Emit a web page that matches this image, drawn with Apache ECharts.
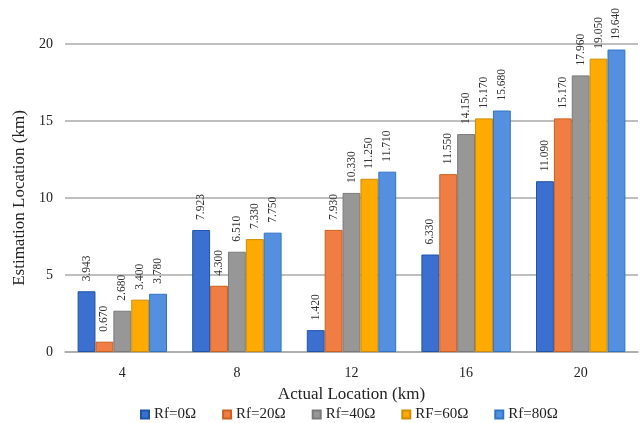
<!DOCTYPE html>
<html>
<head>
<meta charset="utf-8">
<script src="https://cdn.jsdelivr.net/npm/echarts@6/dist/echarts.min.js"></script>
<style>
  html, body { margin: 0; padding: 0; background: #fff; }
  #chart { width: 641px; height: 423px; }
</style>
</head>
<body>
<div id="chart"></div>
<script>
// Actual fault locations (km)
const categories = ['4', '8', '12', '16', '20'];

// Estimated locations (km) for each fault resistance
const rf0  = [3.943, 7.923, 1.420, 6.330, 11.090];
const rf20 = [0.670, 4.300, 7.930, 11.550, 15.170];
const rf40 = [2.680, 6.510, 10.330, 14.150, 17.960];
const rf60 = [3.400, 7.330, 11.250, 15.170, 19.050];
const rf80 = [3.780, 7.750, 11.710, 15.680, 19.640];

const seriesNames = ['Rf=0Ω', 'Rf=20Ω', 'Rf=40Ω', 'RF=60Ω', 'Rf=80Ω'];
const seriesData = [rf0, rf20, rf40, rf60, rf80];
const fills = ['#3B6FD0', '#F07D44', '#979797', '#FFAA00', '#5590E0'];
const edges = ['#1F55A8', '#C8601E', '#7A7A7A', '#D08C00', '#2F74C4'];

const serif = '"Liberation Serif", "DejaVu Serif", serif';

const chart = echarts.init(document.getElementById('chart'), null, { renderer: 'canvas' });

chart.setOption({
  animation: false,
  backgroundColor: '#ffffff',
  grid: { left: 65, right: 3, top: 44, bottom: 71, containLabel: false },
  legend: {
    top: 402,
    left: 135,
    itemWidth: 8,
    itemHeight: 8,
    itemGap: 26,
    icon: 'rect',
    textStyle: { fontFamily: serif, fontSize: 15, color: '#222' },
    data: seriesNames
  },
  xAxis: {
    type: 'category',
    data: categories,
    name: 'Actual Location (km)',
    nameLocation: 'middle',
    nameGap: 34,
    nameTextStyle: { fontFamily: serif, fontSize: 17, color: '#222' },
    axisLine: { lineStyle: { color: '#aaaaaa', width: 1.5 } },
    axisTick: { show: false },
    axisLabel: { fontFamily: serif, fontSize: 14, color: '#222', margin: 14 }
  },
  yAxis: {
    type: 'value',
    min: 0,
    max: 20,
    interval: 5,
    name: 'Estimation Location (km)',
    nameLocation: 'middle',
    nameGap: 36,
    nameTextStyle: { fontFamily: serif, fontSize: 17, color: '#222' },
    axisLine: { show: false },
    axisTick: { show: false },
    axisLabel: { fontFamily: serif, fontSize: 14, color: '#222', margin: 12 },
    splitLine: { lineStyle: { color: '#aaaaaa', width: 1.5 } }
  },
  series: seriesData.map((d, i) => ({
    name: seriesNames[i],
    type: 'bar',
    data: d,
    barGap: '0%',
    barCategoryGap: '22%',
    itemStyle: { color: fills[i], borderColor: edges[i], borderWidth: 1 },
    label: {
      show: true,
      position: 'top',
      rotate: 90,
      align: 'left',
      verticalAlign: 'middle',
      distance: 10,
      fontFamily: serif,
      fontSize: 11.5,
      color: '#333',
      formatter: p => p.value.toFixed(3)
    }
  }))
});
</script>
</body>
</html>
